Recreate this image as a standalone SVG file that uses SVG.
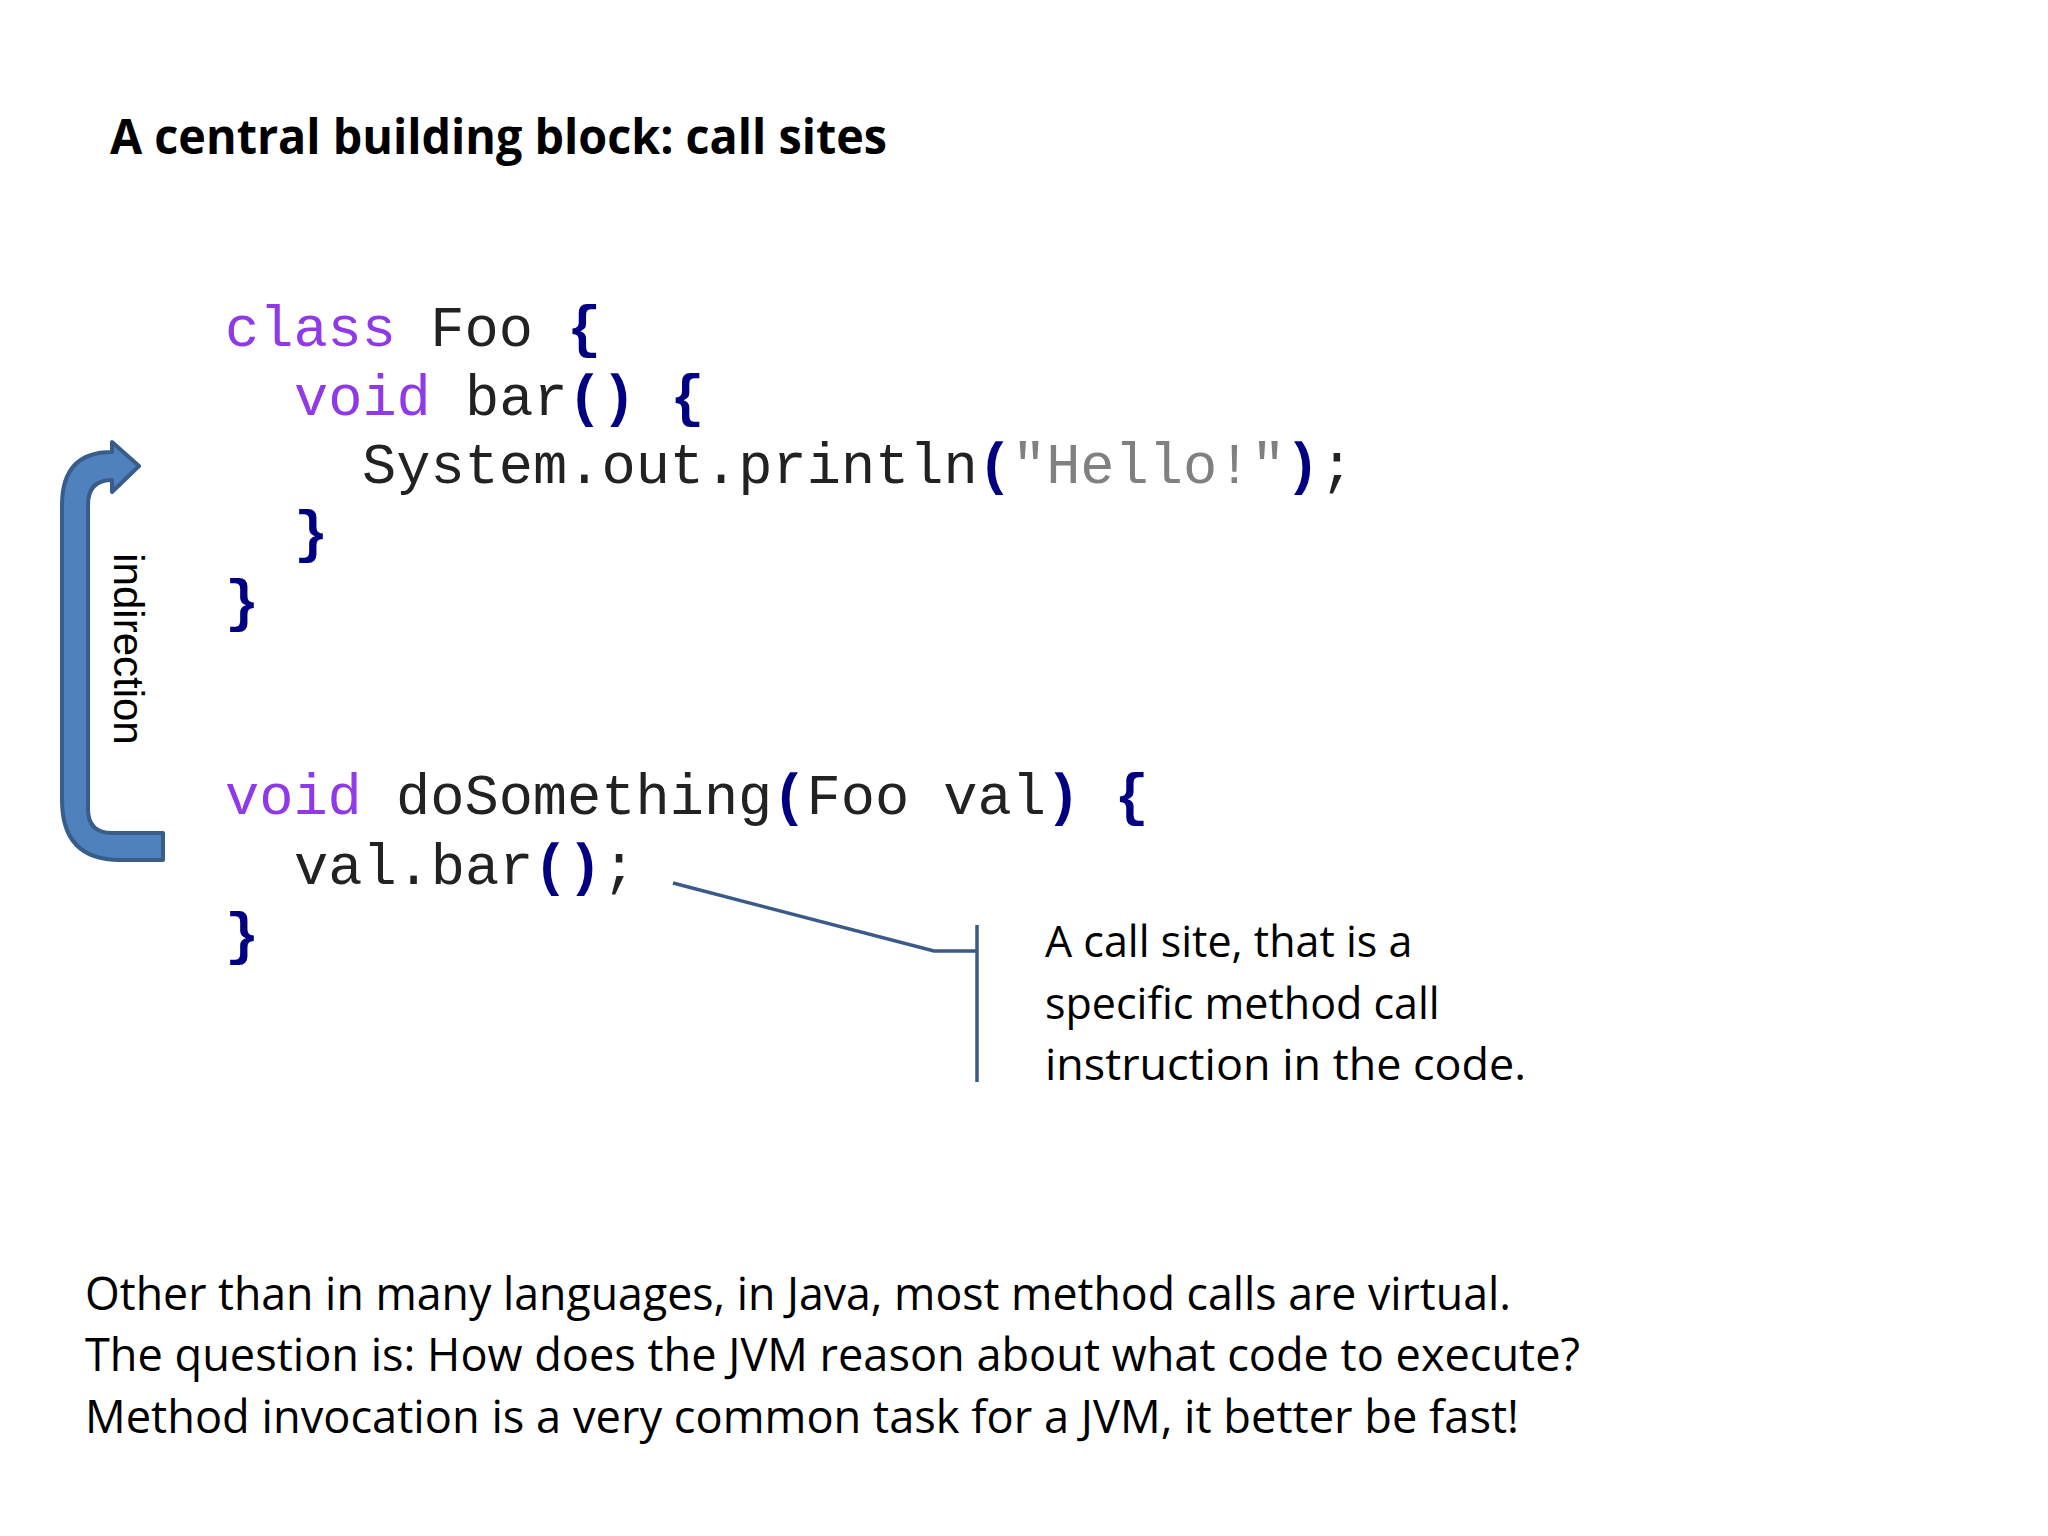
<svg xmlns="http://www.w3.org/2000/svg" width="2048" height="1536" viewBox="0 0 2048 1536">
<style>
.code{font-family:"Liberation Mono","Courier New",monospace;font-size:57px;fill:#222}
.kw{fill:#8f3ae6}
.p{fill:#000080;font-weight:bold}
.s{fill:#808080}
.t{font-family:"Open Sans","Liberation Sans",sans-serif;fill:#000}
</style>
<rect width="2048" height="1536" fill="#fff"/>
<text class="t" x="110" y="154" font-size="48" font-weight="bold" textLength="777" lengthAdjust="spacingAndGlyphs">A central building block: call sites</text>
<g id="code" class="code" xml:space="preserve">
<text x="225" y="346"><tspan class="kw">class</tspan> Foo <tspan class="p">{</tspan></text>
<text x="294" y="415"><tspan class="kw">void</tspan> bar<tspan class="p">()</tspan> <tspan class="p">{</tspan></text>
<text x="362" y="483">System.out.println<tspan class="p">(</tspan><tspan class="s">"Hello!"</tspan><tspan class="p">)</tspan>;</text>
<text x="294" y="551"><tspan class="p">}</tspan></text>
<text x="225" y="620"><tspan class="p">}</tspan></text>
<text x="225" y="814"><tspan class="kw">void</tspan> doSomething<tspan class="p">(</tspan>Foo val<tspan class="p">)</tspan> <tspan class="p">{</tspan></text>
<text x="294" y="884">val.bar<tspan class="p">()</tspan>;</text>
<text x="225" y="953"><tspan class="p">}</tspan></text>
</g>
<g id="indirection">
<path d="M163,833 L112,833 Q88,833 88,809 L88,505 Q88,480 112,480 L112,492 L139,466 L112,442 L112,452 Q62,452 62,505 L62,800 Q62,860 120,860 L163,860 Z" fill="#4f81bd" stroke="#385d8a" stroke-width="4" stroke-linejoin="round"/>
<text class="t" font-family="Liberation Sans" transform="translate(114,649) rotate(90)" text-anchor="middle" font-size="42" style="font-family:'Liberation Sans',Arial,sans-serif">indirection</text>
</g>
<g id="connectors" fill="none" stroke="#3a5a8a" stroke-width="3.5">
<polyline points="673,883 934,951 977,951"/>
<line x1="977" y1="925" x2="977" y2="1082"/>
</g>
<g id="callout" class="t" font-size="43">
<text x="1045" y="957">A call site, that is a</text>
<text x="1045" y="1019">specific method call</text>
<text x="1045" y="1080" textLength="481" lengthAdjust="spacingAndGlyphs">instruction in the code.</text>
</g>
<g id="notes" class="t" font-size="45">
<text x="85" y="1310" textLength="1426" lengthAdjust="spacingAndGlyphs">Other than in many languages, in Java, most method calls are virtual.</text>
<text x="85" y="1371" textLength="1495" lengthAdjust="spacingAndGlyphs">The question is: How does the JVM reason about what code to execute?</text>
<text x="85" y="1433" textLength="1434" lengthAdjust="spacingAndGlyphs">Method invocation is a very common task for a JVM, it better be fast!</text>
</g>
</svg>
